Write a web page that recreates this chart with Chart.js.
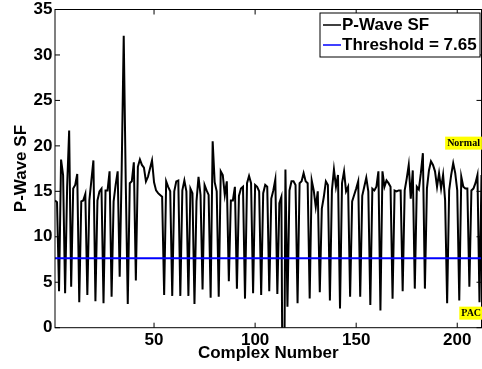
<!DOCTYPE html>
<html>
<head>
<meta charset="utf-8">
<script src="https://cdn.jsdelivr.net/npm/chart.js@4.4.0/dist/chart.umd.min.js"></script>
<style>
  html, body { margin: 0; padding: 0; background: #fff; }
  canvas { display: block; }
</style>
</head>
<body>
<canvas id="myChart" width="482" height="369"></canvas>
<script>
// P-Wave SF per complex (complex number = position in the list, starting at 1)
var pwaveSF = [
  14.0, 13.8, 4.0, 18.5, 16.8, 3.8, 15.5, 21.7, 4.5, 15.3,   // 1-10
  15.7, 16.9, 2.8, 13.9, 14.0, 14.7, 3.6, 14.0, 16.2, 18.4,  // 11-20
  2.9, 14.0, 15.0, 15.3, 2.7, 15.1, 15.1, 17.2, 3.4, 13.9,   // 21-30
  15.7, 17.2, 5.6, 17.5, 32.1, 16.0, 2.6, 15.9, 16.1, 18.2,  // 31-40
  5.2, 17.7, 18.5, 17.9, 17.6, 16.1, 16.6, 17.5, 18.4, 16.0, // 41-50
  15.1, 14.8, 14.6, 14.4, 3.6, 16.1, 15.5, 15.0, 3.5, 15.0,  // 51-60
  16.1, 16.2, 3.5, 15.1, 16.2, 15.0, 3.5, 15.3, 14.8, 2.6,   // 61-70
  13.9, 16.6, 14.6, 4.2, 15.7, 15.1, 14.6, 3.3, 20.5, 16.0,  // 71-80
  15.0, 3.4, 17.2, 16.8, 14.6, 16.1, 5.1, 14.0, 14.0, 15.5,  // 81-90
  4.3, 14.5, 15.3, 15.5, 3.2, 15.9, 16.7, 15.9, 3.8, 15.7,   // 91-100
  15.5, 15.0, 3.6, 14.8, 15.7, 15.5, 4.0, 14.2, 15.1, 16.3,  // 101-110
  3.7, 13.7, 14.4, -25, 17.4, 2.3, 15.1, 16.1, 16.1, 15.7,   // 111-120
  2.7, 15.9, 16.1, 17.0, 16.1, 15.9, 3.2, 16.2, 15.1, 13.3,  // 121-130
  15.0, 3.9, 13.1, 14.4, 16.1, 15.7, 3.0, 15.1, 17.4, 15.5,  // 131-140
  16.8, 2.1, 15.9, 17.2, 15.0, 15.5, 3.4, 13.9, 14.6, 15.3,  // 141-150
  16.1, 3.4, 14.5, 15.5, 16.5, 15.0, 2.5, 15.3, 15.1, 15.5,  // 151-160
  17.2, 1.9, 17.2, 15.5, 16.2, 15.9, 15.5, 3.2, 15.1, 15.0,  // 161-170
  15.1, 15.1, 4.0, 15.1, 16.4, 17.9, 14.2, 17.3, 4.3, 15.5,  // 171-180
  15.2, 17.0, 19.2, 4.3, 15.3, 17.3, 18.3, 17.9, 17.2, 15.5, // 181-190
  17.0, 15.3, 16.8, 14.0, 2.7, 15.1, 16.8, 18.1, 17.0, 15.1, // 191-200
  3.0, 16.6, 15.5, 15.3, 15.3, 4.5, 15.1, 15.3, 15.9, 16.8,  // 201-210
  2.8, 16.8                                                  // 211-212
];
var threshold = 7.65;
var xTicks = [50, 100, 150, 200];
var yTicks = [0, 5, 10, 15, 20, 25, 30, 35];
var legendLabels = ['P-Wave SF', 'Threshold = ' + threshold];
var noteLabels = ['Normal', 'PAC'];
var noteX = [195, 202];
var noteY = [20.3, 1.6];

var xMin = 1, xMax = pwaveSF.length;
var sfPoints = pwaveSF.map(function(v, i) { return {x: i + 1, y: v}; });
var thPoints = [{x: xMin, y: threshold}, {x: xMax, y: threshold}];

var FONT = 'Liberation Sans';

// axes box, inward ticks, notes and legend (MATLAB look)
var matlabPlugin = {
  id: 'matlabLook',
  afterDatasetsDraw: function(chart) {
    var ctx = chart.ctx, a = chart.chartArea;
    var xs = chart.scales.x, ys = chart.scales.y;
    ctx.save();
    ctx.strokeStyle = '#000';
    ctx.lineWidth = 1;
    ctx.strokeRect(a.left, a.top, a.right - a.left, a.bottom - a.top);
    ctx.beginPath();
    xTicks.forEach(function(v) {
      var px = xs.getPixelForValue(v);
      ctx.moveTo(px, a.bottom); ctx.lineTo(px, a.bottom - 5);
      ctx.moveTo(px, a.top); ctx.lineTo(px, a.top + 5);
    });
    yTicks.forEach(function(v) {
      var py = ys.getPixelForValue(v);
      ctx.moveTo(a.left, py); ctx.lineTo(a.left + 5, py);
      ctx.moveTo(a.right, py); ctx.lineTo(a.right - 5, py);
    });
    ctx.stroke();

    // yellow text notes
    ctx.font = 'bold 10px "Liberation Serif"';
    ctx.textBaseline = 'middle';
    ctx.textAlign = 'left';
    for (var i = 0; i < noteLabels.length; i++) {
      var tx = xs.getPixelForValue(noteX[i]);
      var ty = ys.getPixelForValue(noteY[i]);
      var w = ctx.measureText(noteLabels[i]).width;
      ctx.fillStyle = '#ffff00';
      ctx.fillRect(tx - 2, ty - 6.5, w + 4, 13);
      ctx.fillStyle = '#000';
      ctx.fillText(noteLabels[i], tx, ty + 0.5);
    }
    ctx.restore();
  },
  afterDraw: function(chart) {
    var ctx = chart.ctx, a = chart.chartArea;
    var right = a.right - 1.5, left = right - 160, top = a.top + 3.5, bottom = top + 44;
    ctx.save();
    ctx.fillStyle = '#fff';
    ctx.fillRect(left, top, right - left, bottom - top);
    ctx.strokeStyle = '#000';
    ctx.lineWidth = 1;
    ctx.strokeRect(left, top, right - left, bottom - top);
    var colors = ['#000000', '#0000ff'];
    ctx.font = 'bold 17px "' + FONT + '"';
    ctx.textBaseline = 'middle';
    ctx.textAlign = 'left';
    for (var i = 0; i < legendLabels.length; i++) {
      var y = top + 12 + i * 20;
      ctx.strokeStyle = colors[i];
      ctx.lineWidth = 1.5;
      ctx.beginPath();
      ctx.moveTo(left + 3, y); ctx.lineTo(left + 21, y);
      ctx.stroke();
      ctx.fillStyle = '#000';
      ctx.fillText(legendLabels[i], left + 22, y + 0.5);
    }
    ctx.restore();
  }
};

var ctx = document.getElementById('myChart').getContext('2d');
var chart = new Chart(ctx, {
  type: 'line',
  data: {
    datasets: [
      {label: legendLabels[0], data: sfPoints, borderColor: '#000000', borderWidth: 2,
       pointRadius: 0, tension: 0, fill: false, order: 1, clip: 0},
      {label: legendLabels[1], data: thPoints, borderColor: '#0000ff', borderWidth: 2,
       pointRadius: 0, tension: 0, fill: false, order: 0, clip: 0}
    ]
  },
  options: {
    responsive: false,
    devicePixelRatio: 1,
    animation: false,
    layout: {padding: {top: 9.5, right: 0.5, left: 0, bottom: 0}},
    plugins: {legend: {display: false}, tooltip: {enabled: false}},
    scales: {
      x: {
        type: 'linear', min: xMin, max: xMax,
        grid: {display: false, drawTicks: false}, border: {display: false},
        ticks: {color: '#000', font: {family: FONT, size: 17, weight: 'bold'}, padding: 2, maxRotation: 0},
        title: {display: true, text: 'Complex Number', color: '#000',
                font: {family: FONT, size: 17, weight: 'bold'}, padding: {top: 0, bottom: 5.7}},
        afterBuildTicks: function(s) { s.ticks = xTicks.map(function(v) { return {value: v}; }); },
        afterFit: function(s) { s.height = 41.3; s.paddingLeft = 0; s.paddingRight = 0; }
      },
      y: {
        type: 'linear', min: 0, max: 35,
        grid: {display: false, drawTicks: false}, border: {display: false},
        ticks: {color: '#000', font: {family: FONT, size: 17, weight: 'bold'}, padding: 2.5},
        title: {display: true, text: 'P-Wave SF', color: '#000',
                font: {family: FONT, size: 17, weight: 'bold'}, padding: {top: 11.2, bottom: 0}},
        afterBuildTicks: function(s) { s.ticks = yTicks.map(function(v) { return {value: v}; }); },
        afterFit: function(s) { s.width = 55; s.paddingTop = 0; s.paddingBottom = 0; }
      }
    }
  },
  plugins: [matlabPlugin]
});
</script>
</body>
</html>
